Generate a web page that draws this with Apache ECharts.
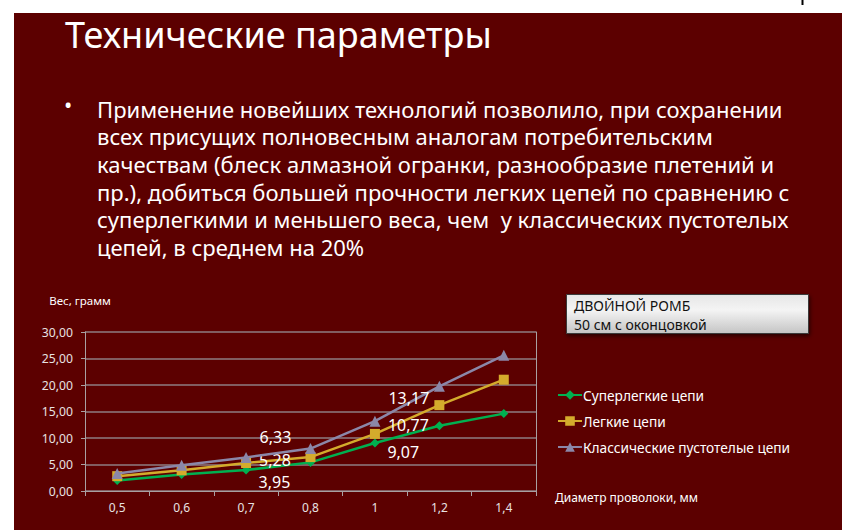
<!DOCTYPE html>
<html>
<head>
<meta charset="utf-8">
<script src="https://cdn.jsdelivr.net/npm/echarts@6/dist/echarts.min.js"></script>
<style>
html,body{margin:0;padding:0;background:#fff;}
#chart{width:846px;height:530px;}
</style>
</head>
<body>
<div id="chart"></div>
<script>
// ---- data ----
const categories = ['0,5', '0,6', '0,7', '0,8', '1', '1,2', '1,4'];
const superLight = [2.0, 3.1, 3.95, 5.4, 9.07, 12.3, 14.6];
const light = [2.8, 3.9, 5.28, 6.4, 10.77, 16.2, 21.0];
const classic = [3.3, 4.85, 6.33, 8.0, 13.17, 19.75, 25.6];
const seriesNames = ['Суперлегкие цепи', 'Легкие цепи', 'Классические пустотелые цепи'];
const labelledIndices = [2, 4];
const yTicks = [0, 5, 10, 15, 20, 25, 30];
const titleText = 'Технические параметры';
const bulletLines = [
  'Применение новейших технологий позволило, при сохранении',
  'всех присущих полновесным аналогам потребительским',
  'качествам (блеск алмазной огранки, разнообразие плетений и',
  'пр.), добиться большей прочности легких цепей по сравнению с',
  'суперлегкими и меньшего веса, чем  у классических пустотелых',
  'цепей, в среднем на 20%'
];
const boxLines = ['ДВОЙНОЙ РОМБ', '50 см с оконцовкой'];

// ---- styles ----
const FONT = 'Noto Sans';
const colors = ['#00b050', '#d4ab2c', '#8b87a8'];
const symbols = ['diamond', 'rect', 'triangle'];
const symbolSizes = [9, 10, 11];
// label offsets (y) per labelled index for each series
const labelOffsets = [
  {2: 12, 4: 9},
  {2: -3, 4: -9},
  {2: -20, 4: -23}
];
const fmt = v => String(v.toFixed(2)).replace('.', ',');

function buildData(values, si) {
  return values.map((v, i) => {
    if (labelledIndices.includes(i)) {
      return {
        value: v,
        label: {
          show: true,
          position: 'right',
          distance: 8,
          offset: [0, labelOffsets[si][i]],
          formatter: p => fmt(p.value),
          color: '#ffffff',
          fontSize: 16,
          lineHeight: 16,
          fontFamily: FONT
        }
      };
    }
    return v;
  });
}

const allValues = [superLight, light, classic];
const series = allValues.map((vals, si) => ({
  name: seriesNames[si],
  type: 'line',
  data: buildData(vals, si),
  symbol: symbols[si],
  symbolSize: symbolSizes[si],
  lineStyle: {color: colors[si], width: 2.5},
  itemStyle: {color: colors[si]},
  label: {show: false},
  z: 3 + si,
  animation: false
}));

const graphic = [
  {type: 'rect', left: 14, top: 13, shape: {width: 828, height: 517}, style: {fill: '#5c0000'}, z: -10},
  {type: 'line', shape: {x1: 802.5, y1: 0, x2: 802.5, y2: 5}, style: {stroke: '#000', lineWidth: 2}},
  {type: 'text', left: 65, top: 16, style: {text: titleText, fill: '#ffffff', font: '36px "' + FONT + '"'}},
  {type: 'text', left: 64, top: 93, style: {text: '•', fill: '#ffffff', font: '22px "' + FONT + '"'}},
  {type: 'text', left: 97, top: 95, style: {text: bulletLines.join('\n'), fill: '#ffffff', font: '22px "' + FONT + '"', lineHeight: 27.6}},
  {type: 'rect', left: 566, top: 294, shape: {width: 242, height: 39},
    style: {
      fill: {type: 'linear', x: 0, y: 0, x2: 0, y2: 1, colorStops: [
        {offset: 0, color: '#e6e6e6'}, {offset: 0.4, color: '#f4f4f4'}, {offset: 1, color: '#c4c4c4'}]},
      stroke: '#3a3a3a', lineWidth: 1,
      shadowBlur: 4, shadowColor: 'rgba(0,0,0,0.6)', shadowOffsetX: 1, shadowOffsetY: 2
    }},
  {type: 'text', left: 574, top: 296, style: {text: boxLines.join('\n'), fill: '#111', font: '14px "' + FONT + '"', lineHeight: 19}}
];

const chart = echarts.init(document.getElementById('chart'), null, {renderer: 'svg'});
chart.setOption({
  backgroundColor: '#ffffff',
  animation: false,
  textStyle: {fontFamily: FONT},
  graphic: graphic,
  grid: {left: 85, right: 310, top: 332, bottom: 39, containLabel: false},
  legend: {
    orient: 'vertical',
    left: 552,
    top: 383,
    itemWidth: 24,
    itemHeight: 12,
    itemGap: 12,
    data: seriesNames,
    textStyle: {color: '#ffffff', fontSize: 13.7, lineHeight: 14, fontFamily: FONT, padding: [0, 0, 0, -4]}
  },
  xAxis: {
    type: 'category',
    data: categories,
    boundaryGap: true,
    name: 'Диаметр проволоки, мм',
    nameLocation: 'end',
    nameGap: 19,
    nameTextStyle: {color: '#ffffff', fontSize: 12, fontFamily: FONT, align: 'left', verticalAlign: 'top', padding: [0, 0, 0, 0]},
    axisLine: {show: true, lineStyle: {color: '#a9a0a2', width: 1}},
    axisTick: {show: true, length: 5, lineStyle: {color: '#a9a0a2'}},
    axisLabel: {color: '#e8e2e2', fontSize: 12, margin: 10, fontFamily: FONT},
    splitLine: {show: false}
  },
  yAxis: [{
    type: 'value',
    min: yTicks[0],
    max: yTicks[yTicks.length - 1],
    interval: yTicks[1] - yTicks[0],
    name: 'Вес, грамм',
    nameLocation: 'end',
    nameGap: 26,
    nameTextStyle: {color: '#ffffff', fontSize: 11.5, fontFamily: FONT, align: 'center', padding: [0, 10, 0, 0]},
    axisLine: {show: true, lineStyle: {color: '#a9a0a2', width: 1}},
    axisTick: {show: true, length: 4, lineStyle: {color: '#a9a0a2'}},
    axisLabel: {color: '#e8e2e2', fontSize: 12.2, margin: 12, fontFamily: FONT, formatter: v => fmt(v)},
    splitLine: {show: true, lineStyle: {color: '#8e7c82', width: 1.5}}
  }, {
    type: 'value',
    position: 'right',
    min: yTicks[0],
    max: yTicks[yTicks.length - 1],
    interval: yTicks[1] - yTicks[0],
    axisLine: {show: true, lineStyle: {color: '#a9a0a2', width: 1}},
    axisTick: {show: false},
    axisLabel: {show: false},
    splitLine: {show: false}
  }],
  series: series
});
</script>
</body>
</html>
